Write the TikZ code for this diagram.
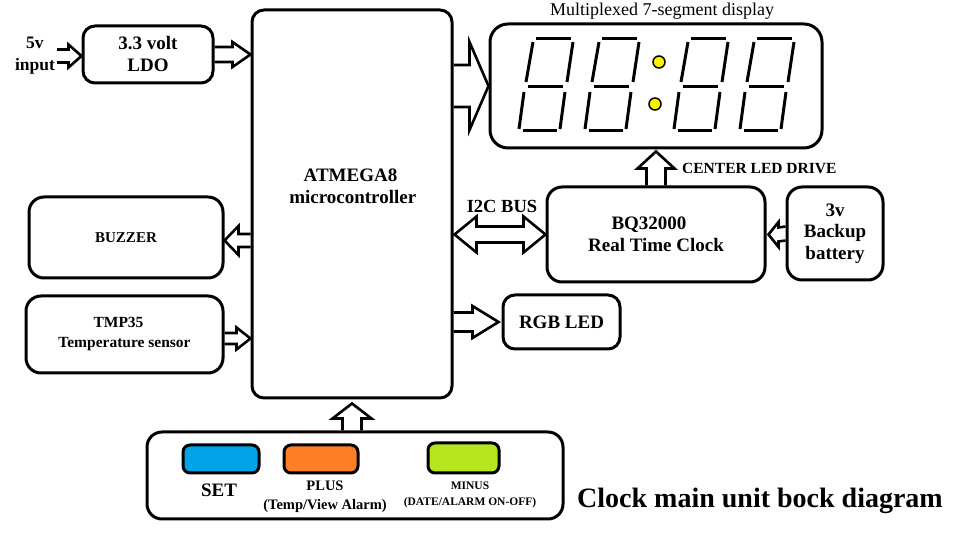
\documentclass[tikz,border=0pt]{standalone}
\usepackage{fontspec}
\setmainfont{Liberation Serif}
\usetikzlibrary{calc}
\newcommand\myfs[2]{\fontsize{#1}{#2}\selectfont}
\definecolor{setblue}{HTML}{00A2E8}
\definecolor{plusorange}{HTML}{FF7F27}
\definecolor{minusgreen}{HTML}{B5E61D}
\definecolor{dotyellow}{HTML}{FFF200}
\tikzset{
  box/.style={draw, line width=3pt, rounded corners=12pt, align=center, inner sep=0pt,
    font=\bfseries\myfs{19}{22}},
  btn/.style={draw, line width=3pt, rounded corners=7pt, inner sep=0pt},
  lbl/.style={align=center, inner sep=0pt, font=\bfseries\myfs{19}{22}},
  arr/.style={draw, line width=2.6pt, line join=miter},
  seg/.style={line width=3pt},
}
% horizontal block arrow: start, tip, shaft half, head half, head length (signed)
\newcommand\harr[5]{%
  \draw[arr] ($(#1)+(0,{-(#3)})$) -- ($(#2)+({-(#5)},{-(#3)})$) -- ($(#2)+({-(#5)},{-(#4)})$)
    -- (#2) -- ($(#2)+({-(#5)},{#4})$) -- ($(#2)+({-(#5)},{#3})$) -- ($(#1)+(0,{#3})$);}
% vertical block arrow (upward when length positive)
\newcommand\varr[5]{%
  \draw[arr] ($(#1)+({-(#3)},0)$) -- ($(#2)+({-(#3)},{#5})$) -- ($(#2)+({-(#4)},{#5})$)
    -- (#2) -- ($(#2)+({#4},{#5})$) -- ($(#2)+({#3},{#5})$) -- ($(#1)+({#3},0)$);}
\newcommand\digitsev[1]{%
  \begin{scope}[shift={(#1,0)}]
    \draw[seg] (536,39) -- (571,39);
    \draw[seg] (533,42) -- (526,82);
    \draw[seg] (573,42) -- (567,82);
    \draw[seg] (528,87) -- (563,87);
    \draw[seg] (524,92) -- (519,129);
    \draw[seg] (565,92) -- (560,129);
    \draw[seg] (523,131) -- (557,131);
  \end{scope}}
\begin{document}
\begin{tikzpicture}[x=1pt,y=-1pt]
\fill[white] (0,0) rectangle (954,534);
\useasboundingbox (0,0) rectangle (954,534);

% boxes
\node[box, minimum width=130pt, minimum height=57pt] (ldo) at (148,54.5) {3.3 volt\\LDO};
\node[box, minimum width=200pt, minimum height=388pt] (mcu) at (352,204) {};
\node[lbl] (mcutxt) at (350.5,186) {ATMEGA8\\\hspace*{4.5pt}microcontroller};
\node[box, rounded corners=18pt, minimum width=332pt, minimum height=124pt] (disp) at (656,86) {};
\node[box, rounded corners=15pt, minimum width=218pt, minimum height=95pt] (rtc) at (656,234.5) {\hspace*{-14pt}BQ32000\\Real Time Clock};
\node[box, rounded corners=15pt, minimum width=96pt, minimum height=93pt, font=\bfseries\myfs{19}{21.5}] (bat) at (835,233.5) {3v\\Backup\\battery};
\node[box, minimum width=117pt, minimum height=54pt] (rgb) at (561.5,322) {RGB LED};
\node[box, rounded corners=15pt, minimum width=194pt, minimum height=81pt, font=\bfseries\myfs{15}{20}] (buzz) at (126,237.5) {BUZZER};
\node[box, rounded corners=15pt, minimum width=197pt, minimum height=77pt, font=\bfseries\myfs{15.5}{20}] (tmp) at (124.5,334.5) {\hspace*{-12pt}TMP35\\Temperature sensor};
\node[box, rounded corners=15pt, minimum width=416pt, minimum height=87pt] (btns) at (355,475.5) {};
\node[btn, fill=setblue, minimum width=76pt, minimum height=28pt] (set) at (221,459) {};
\node[btn, fill=plusorange, minimum width=74pt, minimum height=28pt] (plus) at (321,459) {};
\node[btn, fill=minusgreen, minimum width=71pt, minimum height=30pt] (minus) at (463.5,458) {};

% labels
\node[lbl, font=\bfseries\myfs{17.5}{22}] (inp) at (35,56) {5v\\input};
\node[inner sep=0pt, font=\myfs{18}{20}] (disptitle) at (662,11) {Multiplexed 7-segment display};
\node[inner sep=0pt, anchor=west, font=\bfseries\myfs{15.5}{18}] (cld) at (682,168) {CENTER LED DRIVE};
\node[lbl, font=\bfseries\myfs{18.5}{20}] (i2c) at (502,206) {I2C BUS};
\node[lbl] (setl) at (219,490) {SET};
\node[lbl, font=\bfseries\myfs{14.5}{19}] (plusl) at (325,496.5) {PLUS\\(Temp/View Alarm)};
\node[lbl, font=\bfseries\myfs{11.5}{16}] (minusl) at (470,495) {MINUS\\(DATE/ALARM ON-OFF)};
\node[lbl, font=\bfseries\myfs{28}{30}] (title) at (760,501) {Clock main unit bock diagram};

% digits
\digitsev{0}
\digitsev{66}
\digitsev{155}
\digitsev{221}
\filldraw[fill=dotyellow, draw=black, line width=1.5pt] (659,62) circle (6);
\filldraw[fill=dotyellow, draw=black, line width=1.5pt] (655,104) circle (6);

% coordinates for arrows
\coordinate (inS) at (57,56);
\coordinate (inT) at (ldo.west |- inS);
\coordinate (ldoS) at (ldo.east);
\coordinate (ldoT) at (mcu.west |- ldo.east);
\coordinate (dS) at (mcu.east |- disp.west);
\coordinate (bzS) at ($(mcu.west)+(0,36.5)$);
\coordinate (bzT) at (buzz.east |- bzS);
\coordinate (tpS) at ($(tmp.east)+(0,4)$);
\coordinate (tpT) at (mcu.west |- tpS);
\coordinate (rgS) at (mcu.east |- rgb.west);
\coordinate (rgT) at ($(rgb.west)+(-3,0)$);
\coordinate (btS) at (btns.north -| mcu.south);
\coordinate (btT) at ($(mcu.south)+(0,4)$);
\coordinate (rtS) at (rtc.north);
\coordinate (rtT) at ($(disp.south)+(0,2)$);
\coordinate (baS) at (bat.west);
\coordinate (baT) at ($(rtc.east)+(2,0)$);
\coordinate (i2a) at ($(mcu.east |- rtc.west)+(1,0)$);
\coordinate (i2b) at (rtc.west);

% arrows
\harr{inS}{inT}{6.5}{11.5}{13}
\harr{ldoS}{ldoT}{7.5}{12.5}{18}
\harr{dS}{disp.west}{21}{44}{19}
\harr{bzS}{bzT}{6.5}{14.5}{-14}
\harr{tpS}{tpT}{5.5}{11}{14}
\harr{rgS}{rgT}{9.5}{16}{26}
\harr{baS}{baT}{7}{12.5}{-10}
\varr{btS}{btT}{9.5}{19.5}{15}
\varr{rtS}{rtT}{9.5}{18.5}{17}
\draw[arr] (i2a) -- ($(i2a)+(22,-18)$) -- ($(i2a)+(22,-8)$) -- ($(i2b)+(-22,-8)$)
  -- ($(i2b)+(-22,-18)$) -- (i2b) -- ($(i2b)+(-22,18)$) -- ($(i2b)+(-22,8)$)
  -- ($(i2a)+(22,8)$) -- ($(i2a)+(22,18)$) -- cycle;
\end{tikzpicture}
\end{document}
